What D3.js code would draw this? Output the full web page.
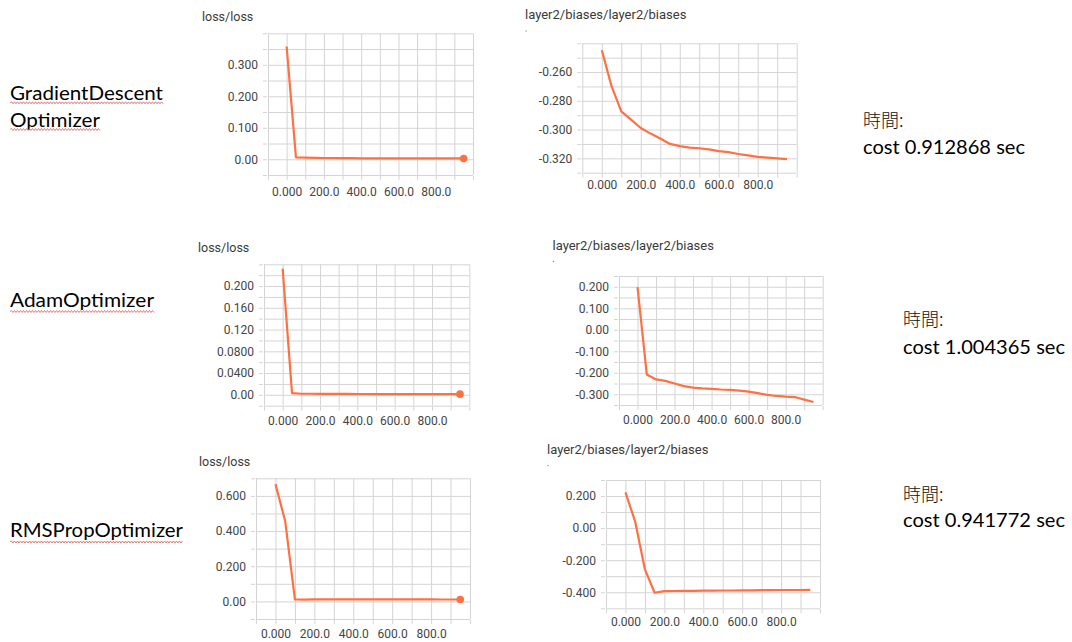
<!DOCTYPE html>
<html>
<head>
<meta charset="utf-8">
<script src="https://cdn.jsdelivr.net/npm/d3@7"></script>
<style>
  html, body { margin: 0; padding: 0; background: #fff; }
  svg { display: block; }
</style>
</head>
<body>
<svg id="chart" width="1072" height="642"></svg>
<script>
// ---------------- DATA ----------------
const steps = [0, 50, 100, 150, 200, 250, 300, 350, 400, 450, 500, 550, 600, 650, 700, 750, 800, 850, 900, 950];
const xTickValues = [0, 200, 400, 600, 800];
const xTickLabels = ["0.000", "200.0", "400.0", "600.0", "800.0"];

const gdLoss = [0.358, 0.006, 0.005, 0.0045, 0.004, 0.004, 0.0035, 0.0035, 0.003, 0.003, 0.003, 0.003, 0.0028, 0.0028, 0.0027, 0.0027, 0.0026, 0.0026, 0.0025, 0.0025];
const gdBias = [-0.2448, -0.2698, -0.2873, -0.2931, -0.2989, -0.3028, -0.3062, -0.3100, -0.3115, -0.3125, -0.3130, -0.3138, -0.3150, -0.3157, -0.3170, -0.3180, -0.3190, -0.3195, -0.3200, -0.3205];
const adamLoss = [0.232, 0.003, 0.002, 0.002, 0.0018, 0.0017, 0.0016, 0.0016, 0.0015, 0.0015, 0.0014, 0.0014, 0.0014, 0.0013, 0.0013, 0.0013, 0.0012, 0.0012, 0.0012, 0.0012];
const adamBias = [0.198, -0.208, -0.231, -0.238, -0.250, -0.262, -0.269, -0.273, -0.275, -0.278, -0.280, -0.283, -0.2875, -0.295, -0.303, -0.308, -0.311, -0.313, -0.325, -0.336];
const rmsLoss = [0.667, 0.457, 0.011, 0.010, 0.012, 0.012, 0.012, 0.012, 0.012, 0.012, 0.012, 0.012, 0.012, 0.012, 0.012, 0.012, 0.012, 0.011, 0.011, 0.011];
const rmsBias = [0.223, 0.04, -0.257, -0.403, -0.393, -0.392, -0.391, -0.391, -0.390, -0.390, -0.389, -0.389, -0.388, -0.388, -0.387, -0.387, -0.386, -0.386, -0.386, -0.385];

const gdLossTicks = [0, 0.1, 0.2, 0.3];
const gdLossTickLabels = ["0.00", "0.100", "0.200", "0.300"];
const gdBiasTicks = [-0.32, -0.30, -0.28, -0.26];
const gdBiasTickLabels = ["-0.320", "-0.300", "-0.280", "-0.260"];
const adamLossTicks = [0, 0.04, 0.08, 0.12, 0.16, 0.2];
const adamLossTickLabels = ["0.00", "0.0400", "0.0800", "0.120", "0.160", "0.200"];
const adamBiasTicks = [-0.3, -0.2, -0.1, 0, 0.1, 0.2];
const adamBiasTickLabels = ["-0.300", "-0.200", "-0.100", "0.00", "0.100", "0.200"];
const rmsLossTicks = [0, 0.2, 0.4, 0.6];
const rmsLossTickLabels = ["0.00", "0.200", "0.400", "0.600"];
const rmsBiasTicks = [-0.4, -0.2, 0, 0.2];
const rmsBiasTickLabels = ["-0.400", "-0.200", "0.00", "0.200"];

const optimizerNames = [["GradientDescent", "Optimizer"], ["AdamOptimizer"], ["RMSPropOptimizer"]];
const timeLabel = "時間:";
const costLabels = ["cost 0.912868 sec", "cost 1.004365 sec", "cost 0.941772 sec"];
const lossTitle = "loss/loss";
const biasTitle = "layer2/biases/layer2/biases";

// ---------------- DRAW ----------------
const svg = d3.select("#chart");
svg.append("rect").attr("width", 1072).attr("height", 642).attr("fill", "#fff");

const LINE = "#ff7043";
const GRID = "#d4d4d4";
const TICKTXT = "#454545";

function drawChart(cfg) {
  const g = svg.append("g");
  const x = d3.scaleLinear().domain([-100, 1000]).range([cfg.x0, cfg.x1]);
  const y = d3.scaleLinear().domain(cfg.yDomain).range([cfg.y1, cfg.y0]);
  const nY = Math.round((cfg.yDomain[1] - cfg.yDomain[0]) / cfg.yStep);
  const gridY = d3.range(nY + 1).map(i => cfg.yDomain[0] + i * cfg.yStep);
  const gridX = d3.range(12).map(i => -100 + i * 100);

  // vertical gridlines + tick marks below
  g.append("g").attr("transform", `translate(0,${cfg.y1})`)
    .call(d3.axisBottom(x).tickValues(gridX).tickSizeInner(-(cfg.y1 - cfg.y0)).tickSizeOuter(0).tickFormat(""))
    .call(a => a.select(".domain").remove())
    .call(a => a.selectAll("line").attr("stroke", GRID));
  g.append("g").attr("transform", `translate(0,${cfg.y1 + 1})`)
    .call(d3.axisBottom(x).tickValues(gridX).tickSize(4).tickFormat(""))
    .call(a => a.select(".domain").remove())
    .call(a => a.selectAll("line").attr("stroke", GRID));

  // horizontal gridlines + tick marks left
  g.append("g").attr("transform", `translate(${cfg.x0},0)`)
    .call(d3.axisLeft(y).tickValues(gridY).tickSizeInner(-(cfg.x1 - cfg.x0)).tickSizeOuter(0).tickFormat(""))
    .call(a => a.select(".domain").remove())
    .call(a => a.selectAll("line").attr("stroke", GRID));
  g.append("g").attr("transform", `translate(${cfg.x0 - 1},0)`)
    .call(d3.axisLeft(y).tickValues(gridY).tickSize(4).tickFormat(""))
    .call(a => a.select(".domain").remove())
    .call(a => a.selectAll("line").attr("stroke", GRID));

  // y labels
  g.append("g").attr("transform", `translate(${cfg.x0},0)`)
    .call(d3.axisLeft(y).tickValues(cfg.yTicks).tickFormat((d, i) => cfg.yLabels[i]).tickSize(0).tickPadding(10))
    .call(a => a.select(".domain").remove())
    .call(a => a.selectAll("text").attr("fill", TICKTXT).style("font-family", "Roboto, sans-serif").style("font-size", "12px"));

  // x labels
  g.append("g").attr("transform", `translate(0,${cfg.y1})`)
    .call(d3.axisBottom(x).tickValues(xTickValues).tickFormat((d, i) => xTickLabels[i]).tickSize(0).tickPadding(cfg.xPad))
    .call(a => a.select(".domain").remove())
    .call(a => a.selectAll("text").attr("fill", TICKTXT).style("font-family", "Roboto, sans-serif").style("font-size", "12px"));

  // line
  const line = d3.line().x((d, i) => x(steps[i])).y(d => y(d));
  g.append("path").datum(cfg.values).attr("d", line)
    .attr("fill", "none").attr("stroke", LINE).attr("stroke-width", 2.2).attr("stroke-linejoin", "round");

  if (cfg.dot) {
    const last = cfg.values.length - 1;
    g.append("circle").attr("cx", x(steps[last])).attr("cy", y(cfg.values[last])).attr("r", 3.8).attr("fill", LINE);
  }

  // title
  g.append("text").attr("x", cfg.tx).attr("y", cfg.ty).text(cfg.title)
    .attr("fill", "#3a3a3a").style("font-family", "Roboto, sans-serif").style("font-size", cfg.titleSize + "px");
  if (cfg.titleDot) {
    g.append("circle").attr("cx", cfg.tx + 1).attr("cy", cfg.ty + 12).attr("r", 0.7).attr("fill", "#888");
  }
}

const charts = [
  { values: gdLoss, yDomain: [-0.05, 0.4], yStep: 0.05, yTicks: gdLossTicks, yLabels: gdLossTickLabels,
    x0: 268, x1: 473, y0: 33.3, y1: 175, xPad: 12, dot: true, title: lossTitle, tx: 202, ty: 21, titleSize: 12.5 },
  { values: gdBias, yDomain: [-0.33, -0.24], yStep: 0.01, yTicks: gdBiasTicks, yLabels: gdBiasTickLabels,
    x0: 582.3, x1: 796.7, y0: 43.3, y1: 172.7, xPad: 8, dot: false, title: biasTitle, tx: 525, ty: 19, titleSize: 13, titleDot: true },
  { values: adamLoss, yDomain: [-0.02, 0.24], yStep: 0.02, yTicks: adamLossTicks, yLabels: adamLossTickLabels,
    x0: 264, x1: 469.3, y0: 264.3, y1: 405.7, xPad: 11, dot: true, title: lossTitle, tx: 198, ty: 251.5, titleSize: 12.5 },
  { values: adamBias, yDomain: [-0.35, 0.25], yStep: 0.05, yTicks: adamBiasTicks, yLabels: adamBiasTickLabels,
    x0: 619, x1: 822.7, y0: 276, y1: 405, xPad: 10, dot: false, title: biasTitle, tx: 552.5, ty: 249.5, titleSize: 13, titleDot: true },
  { values: rmsLoss, yDomain: [-0.1, 0.7], yStep: 0.1, yTicks: rmsLossTicks, yLabels: rmsLossTickLabels,
    x0: 256, x1: 470, y0: 478.3, y1: 619, xPad: 10, dot: true, title: lossTitle, tx: 199, ty: 466, titleSize: 12.5 },
  { values: rmsBias, yDomain: [-0.5, 0.3], yStep: 0.1, yTicks: rmsBiasTicks, yLabels: rmsBiasTickLabels,
    x0: 606, x1: 820, y0: 480, y1: 608.3, xPad: 9, dot: false, title: biasTitle, tx: 547, ty: 453.5, titleSize: 13, titleDot: true }
];
charts.forEach(drawChart);

// ---------------- TEXT LABELS ----------------
function squiggle(x0, x1, yy) {
  let d = `M${x0},${yy}`;
  let up = true;
  for (let xx = x0 + 1.5; xx <= x1; xx += 1.5) { d += ` L${xx},${yy + (up ? -1 : 1)}`; up = !up; }
  svg.append("path").attr("d", d).attr("fill", "none").attr("stroke", "#e36a6a").attr("stroke-width", 0.9);
}

const nameLayout = [
  [{ y: 100, w: 153, uy: 102.8 }, { y: 126.7, w: 90, uy: 129.5 }],
  [{ y: 306.7, w: 144, uy: 311.5 }],
  [{ y: 536.7, w: 173, uy: 542 }]
];
optimizerNames.forEach((lines, k) => {
  lines.forEach((t, j) => {
    const L = nameLayout[k][j];
    svg.append("text").attr("x", 10).attr("y", L.y).text(t)
      .attr("textLength", L.w).attr("lengthAdjust", "spacingAndGlyphs")
      .attr("fill", "#000").style("font-family", "Lato, 'Open Sans', sans-serif").style("font-size", "19.5px");
    squiggle(10, 10 + L.w, L.uy);
  });
});

const timeLayout = [
  { x: 863, ty: 127, cy: 154.3 },
  { x: 903, ty: 326, cy: 354.3 },
  { x: 903, ty: 500.5, cy: 527.3 }
];
timeLayout.forEach((L, k) => {
  svg.append("text").attr("x", L.x).attr("y", L.ty).text(timeLabel)
    .attr("fill", "#111").style("font-family", "'Noto Sans CJK TC', sans-serif").style("font-weight", 300).style("font-size", "18px");
  svg.append("text").attr("x", L.x).attr("y", L.cy).text(costLabels[k])
    .attr("textLength", 162).attr("lengthAdjust", "spacingAndGlyphs")
    .attr("fill", "#000").style("font-family", "Lato, 'Open Sans', sans-serif").style("font-size", "19.5px");
});
</script>
</body>
</html>
